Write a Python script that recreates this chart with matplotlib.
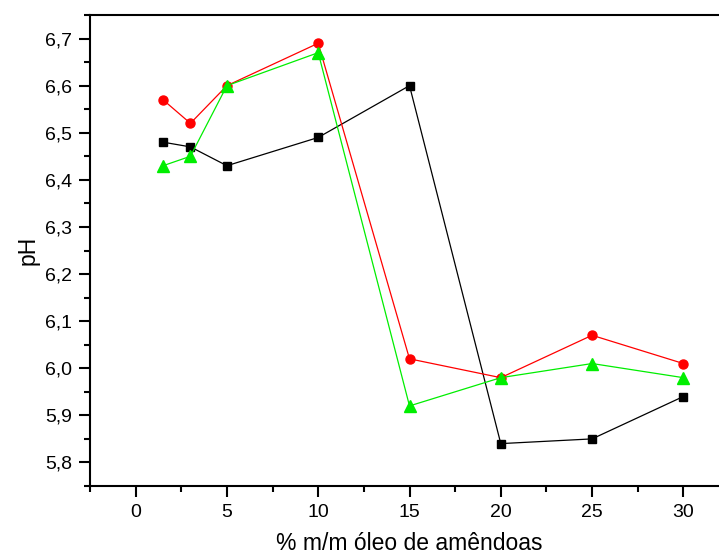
import matplotlib
matplotlib.use("Agg")
import matplotlib.pyplot as plt
from matplotlib.ticker import MultipleLocator, FuncFormatter

plt.rcParams['font.family'] = ['Liberation Sans', 'DejaVu Sans']

x = [1.5, 3, 5, 10, 15, 20, 25, 30]
ph_black = [6.48, 6.47, 6.43, 6.49, 6.60, 5.84, 5.85, 5.94]
ph_red = [6.57, 6.52, 6.60, 6.69, 6.02, 5.98, 6.07, 6.01]
ph_green = [6.43, 6.45, 6.60, 6.67, 5.92, 5.98, 6.01, 5.98]

W, H = 719, 558
fig = plt.figure(figsize=(W/100, H/100), dpi=100)
ax = fig.add_axes([90/W, 1 - 486/H, (729-90)/W, (486-15)/H])

ax.plot(x, ph_black, color='black', lw=0.9, marker='s', ms=6, mec='black', mfc='black')
ax.plot(x, ph_red, color='red', lw=0.9, marker='o', ms=6.5, mec='red', mfc='red')
ax.plot(x, ph_green, color='#00ee00', lw=0.9, marker='^', ms=9, mec='#00ee00', mfc='#00ee00')

ax.set_xlim(-2.5, 32.5)
ax.set_ylim(5.75, 6.75)
ax.xaxis.set_major_locator(MultipleLocator(5))
ax.xaxis.set_minor_locator(MultipleLocator(2.5))
ax.yaxis.set_major_locator(MultipleLocator(0.1))
ax.yaxis.set_minor_locator(MultipleLocator(0.05))
ax.yaxis.set_major_formatter(FuncFormatter(lambda v, p: f"{v:.1f}".replace('.', ',')))

ax.spines['right'].set_visible(False)
for s in ['left', 'bottom', 'top']:
    ax.spines[s].set_linewidth(1.5)
ax.tick_params(which='major', direction='out', length=8, width=1.5, labelsize=14, top=False, right=False, pad=5)
ax.tick_params(which='minor', direction='out', length=4, width=1.5, top=False, right=False)

ax.set_xlabel('% m/m óleo de amêndoas', fontsize=16.5, labelpad=8)
ax.set_ylabel('pH', fontsize=16.5, labelpad=4)

fig.savefig('out.png', dpi=100)
